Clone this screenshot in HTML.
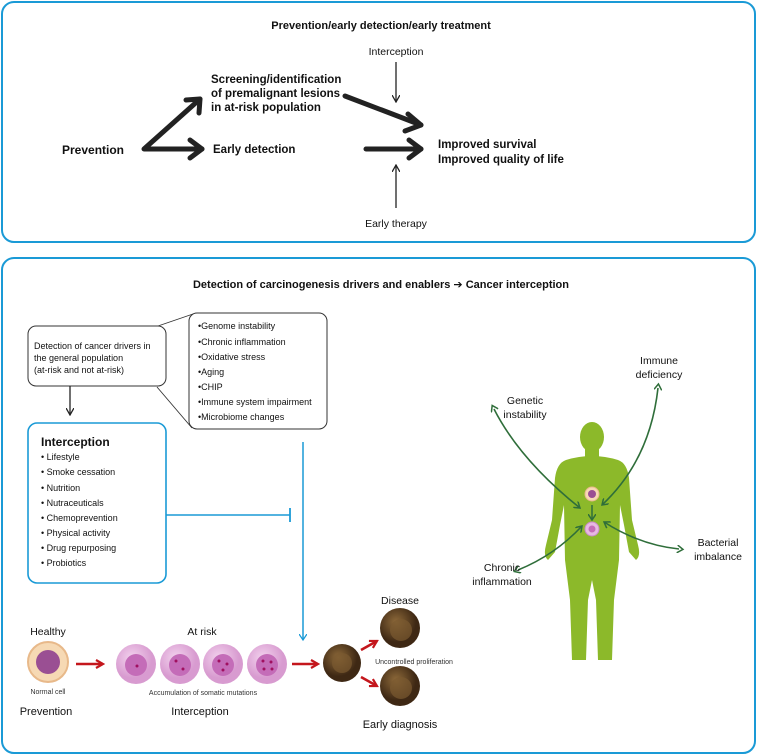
<!DOCTYPE html>
<html><head><meta charset="utf-8"><style>
html,body{margin:0;padding:0;background:#fff;}
svg{display:block;font-family:"Liberation Sans",Arial,sans-serif;}
</style></head><body>
<svg width="757" height="756" viewBox="0 0 757 756" xmlns="http://www.w3.org/2000/svg">
<defs>
<marker id="ah" markerWidth="8" markerHeight="8" refX="7" refY="4" orient="auto" markerUnits="userSpaceOnUse"><path d="M0,0 L7,4 L0,8" fill="none" stroke="#222" stroke-width="1.3"/></marker>
<marker id="bah" markerWidth="8" markerHeight="8" refX="6" refY="4" orient="auto" markerUnits="userSpaceOnUse"><path d="M0,0 L6,4 L0,8" fill="none" stroke="#1a9ad6" stroke-width="1.3"/></marker>
<marker id="gah" markerWidth="8" markerHeight="8" refX="6" refY="4" orient="auto" markerUnits="userSpaceOnUse"><path d="M0,0 L6,4 L0,8" fill="none" stroke="#2f6e3a" stroke-width="1.5"/></marker>
<marker id="gahs" markerWidth="8" markerHeight="8" refX="2" refY="4" orient="auto-start-reverse" markerUnits="userSpaceOnUse"><path d="M0,0 L6,4 L0,8" fill="none" stroke="#2f6e3a" stroke-width="1.5"/></marker>
<marker id="rah" markerWidth="10" markerHeight="10" refX="8" refY="5" orient="auto" markerUnits="userSpaceOnUse"><path d="M1,1 L8,5 L1,9" fill="none" stroke="#c4161c" stroke-width="2.2"/></marker>
<radialGradient id="pink" cx="40%" cy="35%"><stop offset="0" stop-color="#f3d3ee"/><stop offset="1" stop-color="#d89bd0"/></radialGradient>
<radialGradient id="brown" cx="40%" cy="35%"><stop offset="0" stop-color="#8e6a3a"/><stop offset="1" stop-color="#3e2814"/></radialGradient>
</defs>

<!-- top box -->
<rect x="2" y="2" width="753" height="240" rx="12" fill="none" stroke="#1a9ad6" stroke-width="2"/>
<text x="381" y="29" text-anchor="middle" font-size="11" font-weight="bold" fill="#111">Prevention/early detection/early treatment</text>
<text x="62" y="154" font-size="12" font-weight="bold" fill="#111">Prevention</text>
<g stroke="#222" stroke-width="5" fill="none" stroke-linecap="round" stroke-linejoin="round">
<path d="M202,149 L144,149 L200,99"/>
<path d="M186,100 L200,99 L199,113"/>
<path d="M190,140 L202,149 L190,158"/>
<path d="M345,96 L421,125"/>
<path d="M408,114 L421,125 L405,131"/>
<path d="M366,149 L421,149"/>
<path d="M409,140 L421,149 L409,158"/>
</g>
<g font-size="11.5" font-weight="bold" fill="#111">
<text x="211" y="83">Screening/identification</text>
<text x="211" y="97">of premalignant lesions</text>
<text x="211" y="111">in at-risk population</text>
<text x="213" y="153">Early detection</text>
<text x="438" y="148">Improved survival</text>
<text x="438" y="163">Improved quality of life</text>
</g>
<text x="396" y="55" text-anchor="middle" font-size="10.5" fill="#111">Interception</text>
<line x1="396" y1="62" x2="396" y2="102" stroke="#222" stroke-width="1.3" marker-end="url(#ah)"/>
<line x1="396" y1="208" x2="396" y2="165" stroke="#222" stroke-width="1.3" marker-end="url(#ah)"/>
<text x="396" y="227" text-anchor="middle" font-size="10.5" fill="#111">Early therapy</text>

<!-- bottom box -->
<rect x="2" y="258" width="753" height="495" rx="12" fill="none" stroke="#1a9ad6" stroke-width="2"/>
<text x="381" y="288" text-anchor="middle" font-size="11" font-weight="bold" fill="#111">Detection of carcinogenesis drivers and enablers <tspan font-family="DejaVu Sans">➔</tspan> Cancer interception</text>

<line x1="158" y1="326" x2="193" y2="314" stroke="#333" stroke-width="0.9"/>
<line x1="157" y1="387" x2="192" y2="428" stroke="#333" stroke-width="0.9"/>
<rect x="28" y="326" width="138" height="60" rx="8" fill="#fff" stroke="#333" stroke-width="1"/>
<g font-size="9" fill="#111">
<text x="34" y="349">Detection of cancer drivers in</text>
<text x="34" y="361">the general population</text>
<text x="34" y="373">(at-risk and not at-risk)</text>
</g>
<rect x="189" y="313" width="138" height="116" rx="8" fill="#fff" stroke="#333" stroke-width="1"/>
<g font-size="9" fill="#111">
<text x="198" y="329">•Genome instability</text>
<text x="198" y="345">•Chronic inflammation</text>
<text x="198" y="360">•Oxidative stress</text>
<text x="198" y="375">•Aging</text>
<text x="198" y="390">•CHIP</text>
<text x="198" y="405">•Immune system impairment</text>
<text x="198" y="420">•Microbiome changes</text>
</g>
<line x1="70" y1="386" x2="70" y2="415" stroke="#222" stroke-width="1.3" marker-end="url(#ah)"/>

<rect x="28" y="423" width="138" height="160" rx="9" fill="#fff" stroke="#1a9ad6" stroke-width="1.6"/>
<text x="41" y="446" font-size="12" font-weight="bold" fill="#111">Interception</text>
<g font-size="9" fill="#111">
<text x="41" y="460">• Lifestyle</text>
<text x="41" y="475">• Smoke cessation</text>
<text x="41" y="491">• Nutrition</text>
<text x="41" y="506">• Nutraceuticals</text>
<text x="41" y="521">• Chemoprevention</text>
<text x="41" y="536">• Physical activity</text>
<text x="41" y="551">• Drug repurposing</text>
<text x="41" y="566">• Probiotics</text>
</g>
<line x1="166" y1="515" x2="290" y2="515" stroke="#1a9ad6" stroke-width="1.5"/>
<line x1="290" y1="508" x2="290" y2="522" stroke="#1a9ad6" stroke-width="1.8"/>
<line x1="303" y1="442" x2="303" y2="640" stroke="#1a9ad6" stroke-width="1.5" marker-end="url(#bah)"/>

<!-- cells -->
<text x="48" y="635" text-anchor="middle" font-size="10.5" fill="#111">Healthy</text>
<circle cx="48" cy="662" r="20" fill="#f6d9b4" stroke="#e8b98a" stroke-width="2"/>
<circle cx="48" cy="662" r="12" fill="#9a4f93"/>
<text x="48" y="694" text-anchor="middle" font-size="7" fill="#333">Normal cell</text>
<text x="46" y="715" text-anchor="middle" font-size="11" fill="#111">Prevention</text>
<line x1="76" y1="664" x2="103" y2="664" stroke="#c4161c" stroke-width="2.6" marker-end="url(#rah)"/>

<text x="202" y="635" text-anchor="middle" font-size="10.5" fill="#111">At risk</text>
<g>
<circle cx="136" cy="664" r="20" fill="url(#pink)"/><circle cx="136" cy="665" r="11" fill="#c46cb8"/>
<circle cx="180" cy="664" r="20" fill="url(#pink)"/><circle cx="180" cy="665" r="11" fill="#c46cb8"/>
<circle cx="223" cy="664" r="20" fill="url(#pink)"/><circle cx="223" cy="665" r="11" fill="#c46cb8"/>
<circle cx="267" cy="664" r="20" fill="url(#pink)"/><circle cx="267" cy="665" r="11" fill="#c46cb8"/>
<g fill="#a01060"><circle cx="137" cy="666" r="1.5"/><circle cx="176" cy="661" r="1.5"/><circle cx="183" cy="669" r="1.5"/><circle cx="219" cy="661" r="1.5"/><circle cx="227" cy="664" r="1.5"/><circle cx="223" cy="670" r="1.5"/><circle cx="263" cy="661" r="1.5"/><circle cx="271" cy="662" r="1.5"/><circle cx="264" cy="669" r="1.5"/><circle cx="272" cy="669" r="1.5"/></g>
</g>
<text x="203" y="695" text-anchor="middle" font-size="7" fill="#333">Accumulation of somatic mutations</text>
<text x="200" y="715" text-anchor="middle" font-size="11" fill="#111">Interception</text>
<line x1="292" y1="664" x2="318" y2="664" stroke="#c4161c" stroke-width="2.6" marker-end="url(#rah)"/>

<circle cx="342" cy="663" r="19" fill="url(#brown)"/>
<circle cx="342" cy="663" r="10" fill="#7a5a30" opacity="0.7"/>
<line x1="361" y1="650" x2="377" y2="641" stroke="#c4161c" stroke-width="2.6" marker-end="url(#rah)"/>
<line x1="361" y1="677" x2="377" y2="686" stroke="#c4161c" stroke-width="2.6" marker-end="url(#rah)"/>
<text x="400" y="604" text-anchor="middle" font-size="10.5" fill="#111">Disease</text>
<circle cx="400" cy="628" r="20" fill="url(#brown)"/><circle cx="401" cy="630" r="11" fill="#7a5a30" opacity="0.7"/>
<text x="414" y="664" text-anchor="middle" font-size="7" fill="#333">Uncontrolled proliferation</text>
<circle cx="400" cy="686" r="20" fill="url(#brown)"/><circle cx="401" cy="688" r="11" fill="#7a5a30" opacity="0.7"/>
<text x="400" y="728" text-anchor="middle" font-size="11" fill="#111">Early diagnosis</text>

<!-- human body -->
<g fill="#8cb92a">
<ellipse cx="592" cy="437" rx="12" ry="15"/>
<rect x="585" y="447" width="14" height="14"/>
<path d="M566,460 Q592,452 618,460 Q627,463 629,478 L632,520 L638,545 Q641,556 636,560 L629,552 L624,525 L620,505 L619,560 L614,600 L612,660 L598,660 L596,600 L592,580 L588,600 L586,660 L572,660 L570,600 L565,560 L564,505 L560,525 L555,552 L548,560 Q543,556 546,545 L552,520 L555,478 Q557,463 566,460 Z"/>
</g>
<circle cx="592" cy="494" r="7" fill="#f6d9b4" stroke="#e8b98a"/><circle cx="592" cy="494" r="4" fill="#9a4f93"/>
<circle cx="592" cy="529" r="7" fill="#e7b8e3" stroke="#c88bc4"/><circle cx="592" cy="529" r="3.5" fill="#c46cb8"/>
<line x1="592" y1="505" x2="592" y2="520" stroke="#2f6e3a" stroke-width="1.5" marker-end="url(#gah)"/>
<g stroke="#2f6e3a" stroke-width="1.6" fill="none">
<path d="M494,409 Q520,460 580,508" marker-start="url(#gahs)" marker-end="url(#gah)"/>
<path d="M658,388 Q650,460 602,505" marker-start="url(#gahs)" marker-end="url(#gah)"/>
<path d="M518,570 Q555,555 582,526" marker-start="url(#gahs)" marker-end="url(#gah)"/>
<path d="M679,549 Q640,545 604,522" marker-start="url(#gahs)" marker-end="url(#gah)"/>
</g>
<g font-size="10.5" fill="#111" text-anchor="middle">
<text x="525" y="404">Genetic</text><text x="525" y="418">instability</text>
<text x="659" y="364">Immune</text><text x="659" y="378">deficiency</text>
<text x="502" y="571">Chronic</text><text x="502" y="585">inflammation</text>
<text x="718" y="546">Bacterial</text><text x="718" y="560">imbalance</text>
</g>
</svg>
</body></html>
